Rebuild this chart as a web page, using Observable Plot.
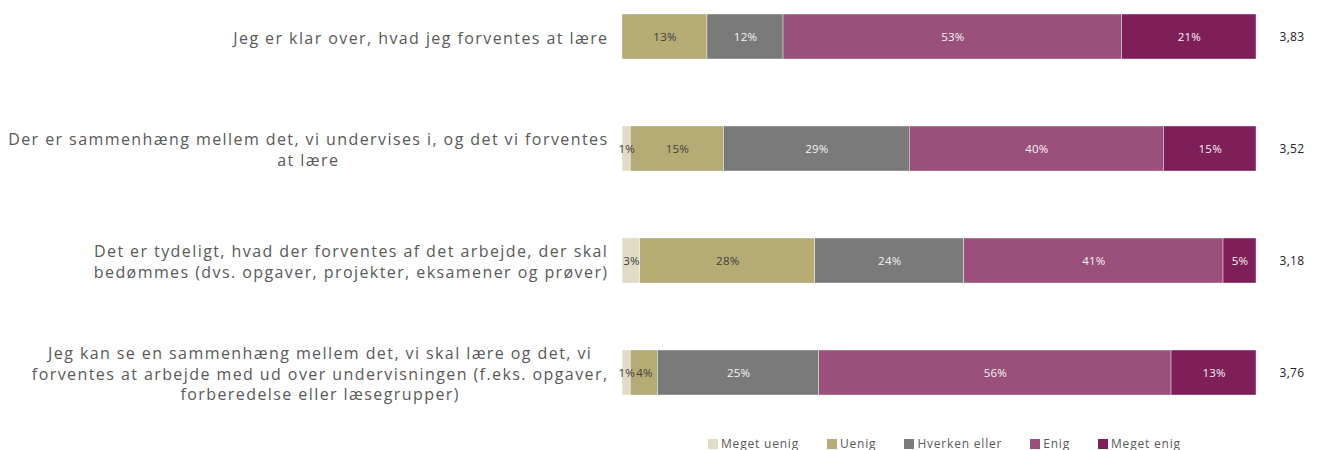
<!DOCTYPE html>
<html>
<head>
<meta charset="utf-8">
<script src="https://cdn.jsdelivr.net/npm/d3@7"></script>
<script src="https://cdn.jsdelivr.net/npm/@observablehq/plot@0.6"></script>
<style>
  html, body { margin: 0; padding: 0; background: #fff; }
  body { width: 1317px; height: 450px; overflow: hidden; font-family: "Open Sans", sans-serif; }
  #legend { display: flex; gap: 28px; margin-left: 708px; margin-top: 6px; height: 25px; align-items: center; font-size: 12px; color: #595959; letter-spacing: 0.8px; }
  #legend .item { display: flex; align-items: center; gap: 3px; }
  #legend .sw { width: 10px; height: 10px; display: inline-block; }
</style>
</head>
<body>
<div id="chart"></div>
<div id="legend"></div>
<script>
const categories = [
  "Jeg er klar over, hvad jeg forventes at lære",
  "Der er sammenhæng mellem det, vi undervises i, og det vi forventes\nat lære",
  "Det er tydeligt, hvad der forventes af det arbejde, der skal\nbedømmes (dvs. opgaver, projekter, eksamener og prøver)",
  "Jeg kan se en sammenhæng mellem det, vi skal lære og det, vi\nforventes at arbejde med ud over undervisningen (f.eks. opgaver,\nforberedelse eller læsegrupper)"
];
const levels = ["Meget uenig", "Uenig", "Hverken eller", "Enig", "Meget enig"];
const colors = ["#e0dcc6", "#b5ab74", "#7a7a7a", "#9b507c", "#7f1f5a"];
const meget_uenig = [0, 1.3, 2.8, 1.3];
const uenig = [13.4, 14.7, 27.6, 4.3];
const hverken = [12.0, 29.3, 23.5, 25.4];
const enig = [53.4, 40.1, 40.9, 55.6];
const meget_enig = [21.2, 14.6, 5.2, 13.4];
const averages = [3.83, 3.52, 3.18, 3.76];

const series = [meget_uenig, uenig, hverken, enig, meget_enig];
const data = [];
categories.forEach((q, i) => {
  levels.forEach((lv, j) => data.push({q, level: lv, value: series[j][i]}));
});
const avgData = categories.map((q, i) => ({q, avg: averages[i]}));

const FONT = "'Open Sans', sans-serif";
const LS = 1.42;
const labelSize = 16;
const ctx = document.createElement("canvas").getContext("2d");
ctx.font = `${labelSize}px ${FONT}`;
function blockWidth(s) {
  return Math.max(...s.split("\n").map(l => ctx.measureText(l).width + LS * l.length));
}

const light = new Set(["Meget uenig", "Uenig"]);
const pctLight = d => light.has(d.level) && d.value > 0 ? Math.round(d.value) + "%" : "";
const pctDark = d => !light.has(d.level) && d.value > 0 ? Math.round(d.value) + "%" : "";

const labelMarks = categories.map(q => Plot.text([q], {
  y: d => d, text: d => d, frameAnchor: "left", textAnchor: "middle",
  dx: -(14 + blockWidth(q) / 2), fontSize: labelSize, lineHeight: 1.3,
  fill: "#595959", fontFamily: FONT
}));

const chart = Plot.plot({
  width: 1317,
  height: 425,
  marginLeft: 622,
  marginRight: 61,
  marginTop: 14,
  marginBottom: 30,
  style: {fontFamily: FONT, background: "#fff"},
  x: {domain: [0, 100], axis: null},
  y: {domain: categories, axis: null, paddingInner: 0.6, paddingOuter: 0},
  color: {domain: levels, range: colors},
  marks: [
    Plot.barX(data, Plot.stackX({x: "value", y: "q", fill: "level", stroke: "white", strokeWidth: 0.4})),
    Plot.text(data, Plot.stackX({x: "value", y: "q", z: "level", text: pctLight, fill: "#404040", fontSize: 11.5})),
    Plot.text(data, Plot.stackX({x: "value", y: "q", z: "level", text: pctDark, fill: "#f4f4f4", fontSize: 11.5})),
    Plot.text(avgData, {y: "q", text: d => d.avg.toFixed(2).replace(".", ","), frameAnchor: "right", textAnchor: "start", dx: 23, fontSize: 12, fill: "#262626"}),
    ...labelMarks
  ]
});
document.getElementById("chart").appendChild(chart);

// letter spacing per mark group (mark order: bars, pct, pct, avg, 4 labels)
const groups = Array.from(chart.children).filter(n => n.tagName.toLowerCase() === "g");
const spacing = [null, "0.2px", "0.2px", "0.3px", LS + "px", LS + "px", LS + "px", LS + "px"];
groups.forEach((g, i) => {
  if (spacing[i]) g.querySelectorAll("text, tspan").forEach(t => t.style.letterSpacing = spacing[i]);
});

const legend = document.getElementById("legend");
levels.forEach((lv, i) => {
  const it = document.createElement("div");
  it.className = "item";
  it.innerHTML = `<span class="sw" style="background:${colors[i]}"></span><span>${lv}</span>`;
  legend.appendChild(it);
});
</script>
</body>
</html>
